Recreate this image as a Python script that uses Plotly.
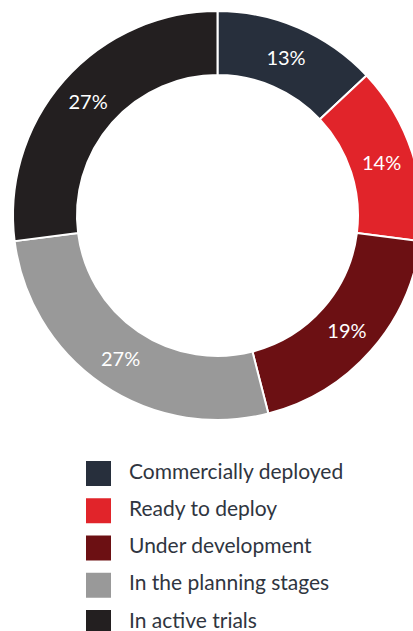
import plotly.graph_objects as go

# Project status breakdown (percent of projects)
stages = [
    "Commercially deployed",
    "Ready to deploy",
    "Under development",
    "In the planning stages",
    "In active trials",
]
shares = [13, 14, 19, 27, 27]
colors = ["#272f3c", "#e1242a", "#6c1013", "#999999", "#231f20"]

W, H = 435, 631
FONT = "Lato, 'Open Sans', sans-serif"

# donut geometry in pixels
cx, cy, r_out = 217.5, 215.5, 204.5

fig = go.Figure(
    go.Pie(
        labels=stages,
        values=shares,
        marker=dict(colors=colors, line=dict(color="white", width=2)),
        hole=0.687,
        sort=False,
        direction="clockwise",
        rotation=0,
        texttemplate="%{value}%",
        textposition="inside",
        insidetextorientation="horizontal",
        textfont=dict(family=FONT, size=20, color="white"),
        hoverinfo="label+percent",
        showlegend=False,
        domain=dict(
            x=[(cx - r_out) / W, (cx + r_out) / W],
            y=[1 - (cy + r_out) / H, 1 - (cy - r_out) / H],
        ),
    )
)

# custom legend: swatches and labels below the donut
sw_x0, sw_size, txt_x = 86, 25, 127
row_top0, row_step = 461, 37.25
shapes, annotations = [], []
for i, (name, col) in enumerate(zip(stages, colors)):
    top = row_top0 + i * row_step
    shapes.append(
        dict(
            type="rect", xref="paper", yref="paper",
            x0=sw_x0 / W, x1=(sw_x0 + sw_size) / W,
            y0=1 - (top + sw_size) / H, y1=1 - top / H,
            fillcolor=col, line=dict(width=0),
        )
    )
    annotations.append(
        dict(
            text=name, xref="paper", yref="paper",
            x=txt_x / W, y=1 - (top + sw_size / 2 - 3.5) / H,
            xanchor="left", yanchor="middle", showarrow=False,
            font=dict(family=FONT, size=21, color="#2f3540"),
        )
    )

fig.update_layout(
    width=W,
    height=H,
    margin=dict(l=0, r=0, t=0, b=0),
    paper_bgcolor="white",
    plot_bgcolor="white",
    shapes=shapes,
    annotations=annotations,
)

fig.write_html(
    "out.html",
    post_script="document.documentElement.style.overflow='hidden';document.body.style.overflow='hidden';document.body.style.margin='0';",
)
